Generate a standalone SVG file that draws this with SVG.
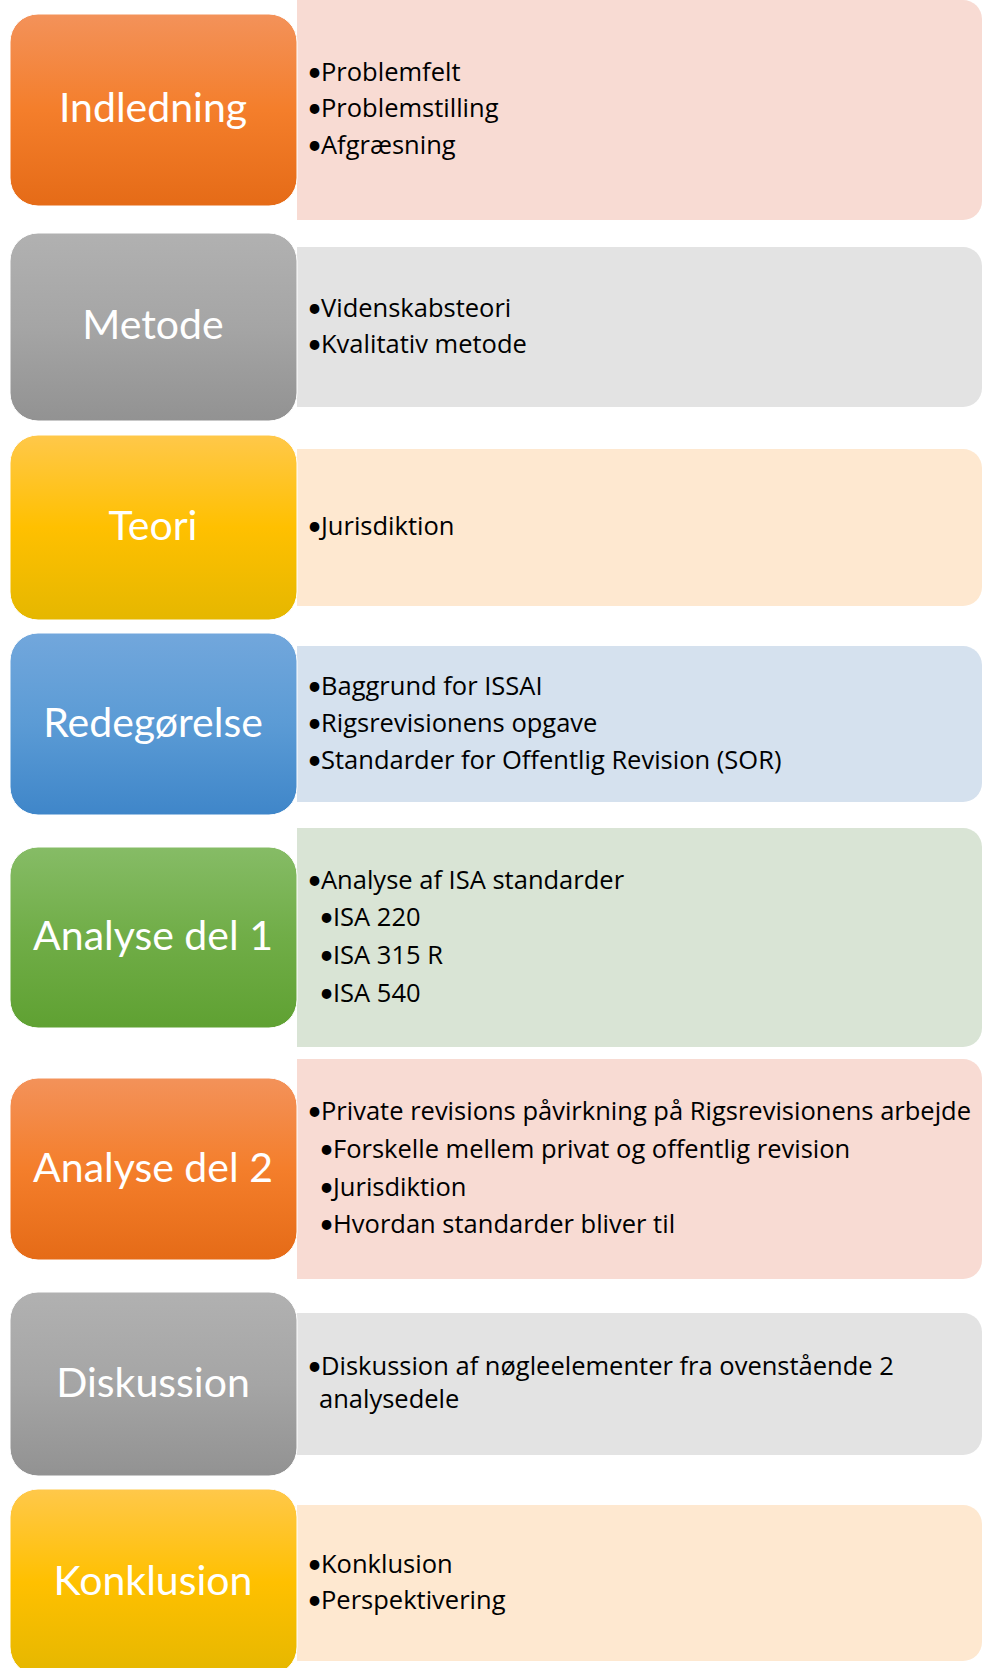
<svg xmlns="http://www.w3.org/2000/svg" width="982" height="1668" viewBox="0 0 982 1668">
<style>
.lbl{font-family:Lato,"Liberation Sans",sans-serif;font-size:41px;fill:#ffffff;text-anchor:middle}
.it{font-family:"Open Sans","Liberation Sans",sans-serif;font-size:25.5px;fill:#000000}
.b{font-family:Lato,"Liberation Sans",sans-serif;font-size:26px}
.box{stroke:#ffffff;stroke-width:1}
</style>
<defs>
<linearGradient id="gO" x1="0" y1="0" x2="0" y2="1"><stop offset="0" stop-color="#F3925A"/><stop offset="0.5" stop-color="#F47E2B"/><stop offset="1" stop-color="#E56B17"/></linearGradient>
<linearGradient id="gG" x1="0" y1="0" x2="0" y2="1"><stop offset="0" stop-color="#B1B1B1"/><stop offset="0.5" stop-color="#A5A5A5"/><stop offset="1" stop-color="#929292"/></linearGradient>
<linearGradient id="gY" x1="0" y1="0" x2="0" y2="1"><stop offset="0" stop-color="#FFC84A"/><stop offset="0.5" stop-color="#FFC000"/><stop offset="1" stop-color="#E5B700"/></linearGradient>
<linearGradient id="gB" x1="0" y1="0" x2="0" y2="1"><stop offset="0" stop-color="#72A7DC"/><stop offset="0.5" stop-color="#5B9BD5"/><stop offset="1" stop-color="#3F86C9"/></linearGradient>
<linearGradient id="gN" x1="0" y1="0" x2="0" y2="1"><stop offset="0" stop-color="#86BC66"/><stop offset="0.5" stop-color="#70AD47"/><stop offset="1" stop-color="#5FA132"/></linearGradient>
</defs>
<rect width="982" height="1668" fill="#ffffff"/>

<g id="indledning">
<path d="M297,0 H963 A19,19 0 0 1 982,19 V201 A19,19 0 0 1 963,220 H297 Z" fill="#F8DBD3"/>
<rect class="box" x="10" y="14" width="287" height="192" rx="28" fill="url(#gO)"/>
<text class="lbl" x="153" y="122">Indledning</text>
<text class="it" y="81"><tspan class="b" x="307">•</tspan><tspan x="321">Problemfelt</tspan></text>
<text class="it" y="117"><tspan class="b" x="307">•</tspan><tspan x="321">Problemstilling</tspan></text>
<text class="it" y="154"><tspan class="b" x="307">•</tspan><tspan x="321">Afgræsning</tspan></text>
</g>

<g id="metode">
<path d="M297,247 H963 A19,19 0 0 1 982,266 V388 A19,19 0 0 1 963,407 H297 Z" fill="#E3E3E3"/>
<rect class="box" x="10" y="233" width="287" height="188" rx="28" fill="url(#gG)"/>
<text class="lbl" x="153" y="339">Metode</text>
<text class="it" y="317"><tspan class="b" x="307">•</tspan><tspan x="321">Videnskabsteori</tspan></text>
<text class="it" y="353"><tspan class="b" x="307">•</tspan><tspan x="321">Kvalitativ metode</tspan></text>
</g>

<g id="teori">
<path d="M297,449 H963 A19,19 0 0 1 982,468 V587 A19,19 0 0 1 963,606 H297 Z" fill="#FEE8D0"/>
<rect class="box" x="10" y="435" width="287" height="185" rx="28" fill="url(#gY)"/>
<text class="lbl" x="153" y="540">Teori</text>
<text class="it" y="535"><tspan class="b" x="307">•</tspan><tspan x="321">Jurisdiktion</tspan></text>
</g>

<g id="redegorelse">
<path d="M297,646 H963 A19,19 0 0 1 982,665 V783 A19,19 0 0 1 963,802 H297 Z" fill="#D5E1EE"/>
<rect class="box" x="10" y="633" width="287" height="182" rx="28" fill="url(#gB)"/>
<text class="lbl" x="153" y="737">Redegørelse</text>
<text class="it" y="695"><tspan class="b" x="307">•</tspan><tspan x="321">Baggrund for ISSAI</tspan></text>
<text class="it" y="732"><tspan class="b" x="307">•</tspan><tspan x="321">Rigsrevisionens opgave</tspan></text>
<text class="it" y="769"><tspan class="b" x="307">•</tspan><tspan x="321">Standarder for Offentlig Revision (SOR)</tspan></text>
</g>

<g id="analyse1">
<path d="M297,828 H963 A19,19 0 0 1 982,847 V1028 A19,19 0 0 1 963,1047 H297 Z" fill="#D9E4D5"/>
<rect class="box" x="10" y="847" width="287" height="181" rx="28" fill="url(#gN)"/>
<text class="lbl" x="153" y="950">Analyse del 1</text>
<text class="it" y="889"><tspan class="b" x="307">•</tspan><tspan x="321">Analyse af ISA standarder</tspan></text>
<text class="it" y="926"><tspan class="b" x="319">•</tspan><tspan x="333">ISA 220</tspan></text>
<text class="it" y="964"><tspan class="b" x="319">•</tspan><tspan x="333">ISA 315 R</tspan></text>
<text class="it" y="1002"><tspan class="b" x="319">•</tspan><tspan x="333">ISA 540</tspan></text>
</g>

<g id="analyse2">
<path d="M297,1059 H963 A19,19 0 0 1 982,1078 V1260 A19,19 0 0 1 963,1279 H297 Z" fill="#F8DBD3"/>
<rect class="box" x="10" y="1078" width="287" height="182" rx="28" fill="url(#gO)"/>
<text class="lbl" x="153" y="1182">Analyse del 2</text>
<text class="it" y="1120"><tspan class="b" x="307">•</tspan><tspan x="321">Private revisions påvirkning på Rigsrevisionens arbejde</tspan></text>
<text class="it" y="1158"><tspan class="b" x="319">•</tspan><tspan x="333">Forskelle mellem privat og offentlig revision</tspan></text>
<text class="it" y="1196"><tspan class="b" x="319">•</tspan><tspan x="333">Jurisdiktion</tspan></text>
<text class="it" y="1233"><tspan class="b" x="319">•</tspan><tspan x="333">Hvordan standarder bliver til</tspan></text>
</g>

<g id="diskussion">
<path d="M297,1313 H963 A19,19 0 0 1 982,1332 V1436 A19,19 0 0 1 963,1455 H297 Z" fill="#E3E3E3"/>
<rect class="box" x="10" y="1292" width="287" height="184" rx="28" fill="url(#gG)"/>
<text class="lbl" x="153" y="1397">Diskussion</text>
<text class="it" y="1375"><tspan class="b" x="307">•</tspan><tspan x="321">Diskussion af nøgleelementer fra ovenstående 2</tspan></text>
<text class="it" y="1408"><tspan x="319">analysedele</tspan></text>
</g>

<g id="konklusion">
<path d="M297,1505 H963 A19,19 0 0 1 982,1524 V1642 A19,19 0 0 1 963,1661 H297 Z" fill="#FEE8D0"/>
<rect class="box" x="10" y="1489" width="287" height="186" rx="28" fill="url(#gY)"/>
<text class="lbl" x="153" y="1595">Konklusion</text>
<text class="it" y="1573"><tspan class="b" x="307">•</tspan><tspan x="321">Konklusion</tspan></text>
<text class="it" y="1609"><tspan class="b" x="307">•</tspan><tspan x="321">Perspektivering</tspan></text>
</g>

<g id="connectors"></g>
</svg>
